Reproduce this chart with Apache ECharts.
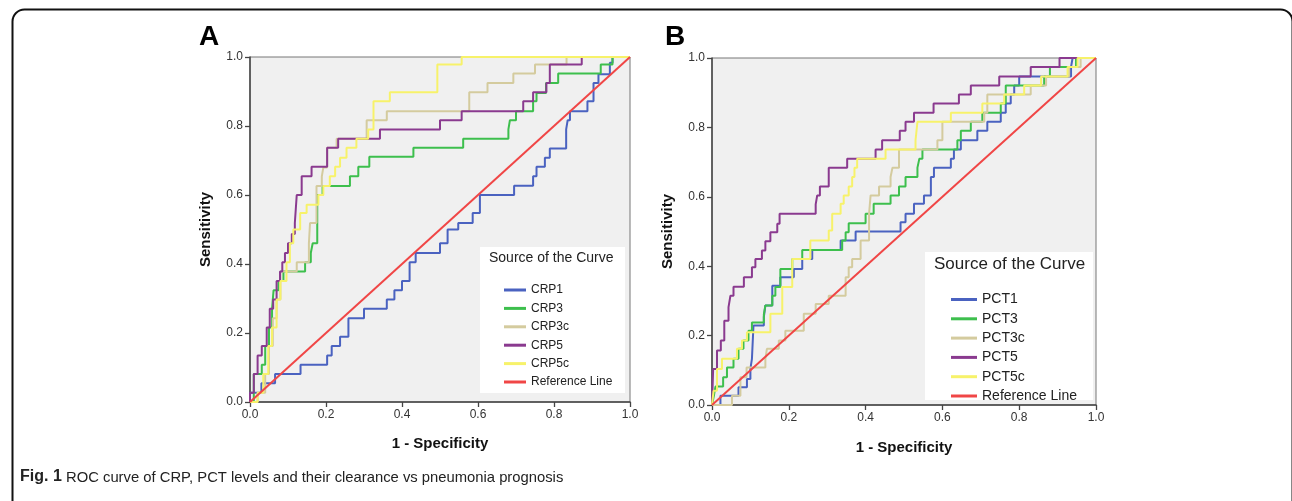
<!DOCTYPE html>
<html><head><meta charset="utf-8">
<script src="https://cdn.jsdelivr.net/npm/echarts@6/dist/echarts.min.js"></script>
<style>html,body{margin:0;padding:0;background:#fff}#c{width:1292px;height:501px}</style>
</head><body><div id="c"></div>
<script>
// ---------- data (ROC staircase vertices: [1-specificity, sensitivity]) ----------
const axisTicks = [0, 0.2, 0.4, 0.6, 0.8, 1.0];
const namesA = ['CRP1','CRP3','CRP3c','CRP5','CRP5c','Reference Line'];
const namesB = ['PCT1','PCT3','PCT3c','PCT5','PCT5c','Reference Line'];
const refLine = [[0,0],[1,1]];

const crp1 = [[0,0],[0,0.027],[0.03,0.027],[0.03,0.054],[0.066,0.054],[0.066,0.081],[0.133,0.081],[0.133,0.108],[0.203,0.108],[0.203,0.135],[0.215,0.135],[0.215,0.162],[0.237,0.162],[0.237,0.189],[0.259,0.189],[0.259,0.243],[0.3,0.243],[0.3,0.27],[0.36,0.27],[0.36,0.297],[0.38,0.297],[0.38,0.324],[0.4,0.324],[0.4,0.351],[0.42,0.351],[0.42,0.405],[0.436,0.405],[0.436,0.432],[0.5,0.432],[0.5,0.46],[0.52,0.46],[0.52,0.5],[0.548,0.5],[0.548,0.519],[0.586,0.519],[0.586,0.548],[0.605,0.548],[0.605,0.6],[0.695,0.6],[0.695,0.627],[0.745,0.627],[0.745,0.654],[0.754,0.654],[0.754,0.682],[0.776,0.682],[0.776,0.708],[0.789,0.708],[0.789,0.735],[0.832,0.735],[0.832,0.79],[0.836,0.79],[0.836,0.817],[0.842,0.817],[0.842,0.843],[0.888,0.843],[0.888,0.872],[0.904,0.872],[0.904,0.925],[0.917,0.925],[0.917,0.95],[0.947,0.95],[0.947,0.983],[0.954,0.983],[0.954,1],[1,1]];
const crp3 = [[0,0],[0.01,0],[0.01,0.081],[0.031,0.081],[0.031,0.108],[0.04,0.108],[0.04,0.162],[0.05,0.162],[0.05,0.216],[0.058,0.216],[0.058,0.27],[0.062,0.27],[0.062,0.324],[0.075,0.324],[0.075,0.351],[0.088,0.351],[0.088,0.378],[0.145,0.378],[0.145,0.405],[0.16,0.405],[0.16,0.432],[0.165,0.432],[0.165,0.46],[0.177,0.46],[0.177,0.6],[0.191,0.6],[0.191,0.626],[0.263,0.626],[0.263,0.654],[0.285,0.654],[0.285,0.682],[0.314,0.682],[0.314,0.711],[0.43,0.711],[0.43,0.737],[0.561,0.737],[0.561,0.763],[0.68,0.763],[0.68,0.79],[0.684,0.79],[0.684,0.817],[0.7,0.817],[0.7,0.843],[0.745,0.843],[0.745,0.872],[0.754,0.872],[0.754,0.896],[0.779,0.896],[0.779,0.925],[0.811,0.925],[0.811,0.952],[0.923,0.952],[0.923,0.978],[0.954,0.978],[0.954,1],[1,1]];
const crp3c = [[0,0],[0.02,0],[0.02,0.027],[0.04,0.027],[0.04,0.081],[0.05,0.081],[0.05,0.162],[0.06,0.162],[0.06,0.243],[0.07,0.243],[0.07,0.297],[0.08,0.297],[0.08,0.378],[0.123,0.378],[0.123,0.405],[0.155,0.405],[0.155,0.46],[0.158,0.46],[0.158,0.519],[0.175,0.519],[0.175,0.626],[0.189,0.626],[0.189,0.654],[0.193,0.654],[0.193,0.68],[0.203,0.68],[0.203,0.737],[0.228,0.737],[0.228,0.763],[0.307,0.763],[0.307,0.817],[0.36,0.817],[0.36,0.843],[0.577,0.843],[0.577,0.898],[0.625,0.898],[0.625,0.925],[0.693,0.925],[0.693,0.952],[0.75,0.952],[0.75,0.978],[0.833,0.978],[0.833,1],[1,1]];
const crp5 = [[0,0],[0,0.027],[0.01,0.027],[0.01,0.081],[0.02,0.081],[0.02,0.135],[0.031,0.135],[0.031,0.162],[0.044,0.162],[0.044,0.216],[0.052,0.216],[0.052,0.27],[0.061,0.27],[0.061,0.297],[0.07,0.297],[0.07,0.351],[0.079,0.351],[0.079,0.378],[0.085,0.378],[0.085,0.405],[0.092,0.405],[0.092,0.432],[0.1,0.432],[0.1,0.46],[0.11,0.46],[0.11,0.487],[0.118,0.487],[0.118,0.519],[0.123,0.519],[0.123,0.6],[0.136,0.6],[0.136,0.654],[0.162,0.654],[0.162,0.682],[0.203,0.682],[0.203,0.737],[0.232,0.737],[0.232,0.763],[0.342,0.763],[0.342,0.79],[0.5,0.79],[0.5,0.817],[0.557,0.817],[0.557,0.843],[0.719,0.843],[0.719,0.872],[0.745,0.872],[0.745,0.898],[0.78,0.898],[0.78,0.925],[0.789,0.925],[0.789,0.978],[0.873,0.978],[0.873,1],[1,1]];
const crp5c = [[0,0],[0.02,0],[0.02,0.027],[0.035,0.027],[0.035,0.081],[0.048,0.081],[0.048,0.162],[0.058,0.162],[0.058,0.216],[0.07,0.216],[0.07,0.297],[0.08,0.297],[0.08,0.351],[0.096,0.351],[0.096,0.405],[0.105,0.405],[0.105,0.46],[0.114,0.46],[0.114,0.5],[0.132,0.5],[0.132,0.548],[0.149,0.548],[0.149,0.572],[0.18,0.572],[0.18,0.6],[0.193,0.6],[0.193,0.626],[0.21,0.626],[0.21,0.654],[0.224,0.654],[0.224,0.682],[0.237,0.682],[0.237,0.708],[0.254,0.708],[0.254,0.737],[0.28,0.737],[0.28,0.763],[0.311,0.763],[0.311,0.79],[0.325,0.79],[0.325,0.872],[0.368,0.872],[0.368,0.898],[0.493,0.898],[0.493,0.978],[0.557,0.978],[0.557,1],[1,1]];

const pct1 = [[0,0],[0.022,0],[0.022,0.027],[0.069,0.027],[0.069,0.051],[0.091,0.051],[0.091,0.075],[0.1,0.075],[0.1,0.104],[0.104,0.104],[0.104,0.133],[0.108,0.133],[0.108,0.229],[0.135,0.229],[0.135,0.253],[0.139,0.253],[0.139,0.287],[0.157,0.287],[0.157,0.344],[0.178,0.344],[0.178,0.368],[0.213,0.368],[0.213,0.392],[0.235,0.392],[0.235,0.421],[0.261,0.421],[0.261,0.447],[0.335,0.447],[0.335,0.474],[0.374,0.474],[0.374,0.5],[0.491,0.5],[0.491,0.527],[0.504,0.527],[0.504,0.551],[0.526,0.551],[0.526,0.58],[0.552,0.58],[0.552,0.604],[0.57,0.604],[0.57,0.657],[0.578,0.657],[0.578,0.684],[0.622,0.684],[0.622,0.71],[0.63,0.71],[0.63,0.736],[0.648,0.736],[0.648,0.763],[0.691,0.763],[0.691,0.79],[0.717,0.79],[0.717,0.816],[0.752,0.816],[0.752,0.842],[0.765,0.842],[0.765,0.869],[0.778,0.869],[0.778,0.895],[0.787,0.895],[0.787,0.921],[0.8,0.921],[0.8,0.947],[0.935,0.947],[0.935,0.974],[0.939,0.974],[0.939,1],[1,1]];
const pct3 = [[0,0],[0.005,0],[0.005,0.027],[0.009,0.027],[0.009,0.053],[0.029,0.053],[0.029,0.08],[0.039,0.08],[0.039,0.108],[0.056,0.108],[0.056,0.133],[0.069,0.133],[0.069,0.162],[0.082,0.162],[0.082,0.186],[0.095,0.186],[0.095,0.214],[0.104,0.214],[0.104,0.238],[0.135,0.238],[0.135,0.26],[0.139,0.26],[0.139,0.287],[0.157,0.287],[0.157,0.315],[0.165,0.315],[0.165,0.34],[0.178,0.34],[0.178,0.392],[0.209,0.392],[0.209,0.421],[0.235,0.421],[0.235,0.447],[0.339,0.447],[0.339,0.474],[0.348,0.474],[0.348,0.498],[0.356,0.498],[0.356,0.524],[0.4,0.524],[0.4,0.551],[0.421,0.551],[0.421,0.58],[0.465,0.58],[0.465,0.604],[0.487,0.604],[0.487,0.63],[0.504,0.63],[0.504,0.657],[0.535,0.657],[0.535,0.684],[0.54,0.684],[0.54,0.71],[0.548,0.71],[0.548,0.736],[0.639,0.736],[0.639,0.763],[0.648,0.763],[0.648,0.79],[0.674,0.79],[0.674,0.816],[0.704,0.816],[0.704,0.842],[0.752,0.842],[0.752,0.869],[0.765,0.869],[0.765,0.921],[0.865,0.921],[0.865,0.947],[0.88,0.947],[0.88,0.974],[0.948,0.974],[0.948,1],[1,1]];
const pct3c = [[0,0],[0.052,0],[0.052,0.027],[0.074,0.027],[0.074,0.08],[0.09,0.08],[0.09,0.108],[0.139,0.108],[0.139,0.133],[0.143,0.133],[0.143,0.162],[0.174,0.162],[0.174,0.186],[0.191,0.186],[0.191,0.214],[0.239,0.214],[0.239,0.263],[0.27,0.263],[0.27,0.291],[0.304,0.291],[0.304,0.315],[0.348,0.315],[0.348,0.368],[0.356,0.368],[0.356,0.397],[0.365,0.397],[0.365,0.421],[0.387,0.421],[0.387,0.474],[0.409,0.474],[0.409,0.55],[0.413,0.55],[0.413,0.604],[0.435,0.604],[0.435,0.63],[0.465,0.63],[0.465,0.657],[0.47,0.657],[0.47,0.684],[0.487,0.684],[0.487,0.736],[0.587,0.736],[0.587,0.763],[0.6,0.763],[0.6,0.816],[0.709,0.816],[0.709,0.842],[0.717,0.842],[0.717,0.895],[0.83,0.895],[0.83,0.921],[0.87,0.921],[0.87,0.947],[0.93,0.947],[0.93,0.974],[0.96,0.974],[0.96,1],[1,1]];
const pct5 = [[0,0],[0.003,0],[0.003,0.104],[0.013,0.104],[0.013,0.157],[0.023,0.157],[0.023,0.186],[0.032,0.186],[0.032,0.243],[0.043,0.243],[0.043,0.282],[0.048,0.282],[0.048,0.315],[0.056,0.315],[0.056,0.341],[0.083,0.341],[0.083,0.368],[0.104,0.368],[0.104,0.397],[0.113,0.397],[0.113,0.421],[0.13,0.421],[0.13,0.445],[0.139,0.445],[0.139,0.472],[0.152,0.472],[0.152,0.498],[0.17,0.498],[0.17,0.522],[0.176,0.522],[0.176,0.551],[0.27,0.551],[0.27,0.578],[0.274,0.578],[0.274,0.604],[0.281,0.604],[0.281,0.63],[0.304,0.63],[0.304,0.684],[0.352,0.684],[0.352,0.71],[0.426,0.71],[0.426,0.736],[0.443,0.736],[0.443,0.763],[0.489,0.763],[0.489,0.79],[0.504,0.79],[0.504,0.816],[0.526,0.816],[0.526,0.842],[0.577,0.842],[0.577,0.869],[0.643,0.869],[0.643,0.895],[0.674,0.895],[0.674,0.921],[0.748,0.921],[0.748,0.947],[0.83,0.947],[0.83,0.974],[0.905,0.974],[0.905,1],[1,1]];
const pct5c = [[0,0],[0.004,0],[0.004,0.041],[0.013,0.041],[0.013,0.104],[0.026,0.104],[0.026,0.133],[0.065,0.133],[0.065,0.162],[0.078,0.162],[0.078,0.186],[0.091,0.186],[0.091,0.21],[0.152,0.21],[0.152,0.263],[0.183,0.263],[0.183,0.34],[0.209,0.34],[0.209,0.421],[0.256,0.421],[0.256,0.474],[0.304,0.474],[0.304,0.503],[0.313,0.503],[0.313,0.551],[0.335,0.551],[0.335,0.58],[0.343,0.58],[0.343,0.604],[0.356,0.604],[0.356,0.63],[0.365,0.63],[0.365,0.657],[0.371,0.657],[0.371,0.684],[0.378,0.684],[0.378,0.71],[0.452,0.71],[0.452,0.736],[0.53,0.736],[0.53,0.763],[0.535,0.763],[0.535,0.816],[0.622,0.816],[0.622,0.842],[0.704,0.842],[0.704,0.869],[0.761,0.869],[0.761,0.895],[0.813,0.895],[0.813,0.921],[0.857,0.921],[0.857,0.947],[0.926,0.947],[0.926,0.974],[0.952,0.974],[0.952,1],[1,1]];

// ---------- styling ----------
const colors = ['#4a62c0','#3dbf4d','#d4cb9e','#8a3a8f','#f7f26a','#f04646'];
const dataA = [crp1, crp3, crp3c, crp5, crp5c, refLine];
const dataB = [pct1, pct3, pct3c, pct5, pct5c, refLine];

const chart = echarts.init(document.getElementById('c'), null, {renderer:'canvas'});
const FONT = 'Liberation Sans, Arial, sans-serif';

function mkX(gi){
  return {type:'value', gridIndex:gi, min:axisTicks[0], max:axisTicks[axisTicks.length-1], interval:0.2,
    name:'1 - Specificity', nameLocation:'middle', nameGap: gi===0?34:35,
    nameTextStyle:{fontFamily:FONT, fontWeight:'bold', fontSize:15, color:'#111'},
    axisLine:{show:true, onZero:false, lineStyle:{color:'#444', width:1.5}},
    axisTick:{show:true, length:5, lineStyle:{color:'#444', width:1.3}},
    axisLabel:{fontFamily:FONT, fontSize:12, color:'#333', margin:7, formatter:v=>v.toFixed(1)},
    splitLine:{show:false}};
}
function mkY(gi){
  return {type:'value', gridIndex:gi, min:axisTicks[0], max:axisTicks[axisTicks.length-1], interval:0.2,
    name:'Sensitivity', nameLocation:'middle', nameGap:37,
    nameTextStyle:{fontFamily:FONT, fontWeight:'bold', fontSize:15, color:'#111'},
    axisLine:{show:true, onZero:false, lineStyle:{color:'#444', width:1.5}},
    axisTick:{show:true, length:5, lineStyle:{color:'#444', width:1.3}},
    axisLabel:{fontFamily:FONT, fontSize:12, color:'#333', margin:7, formatter:v=>v.toFixed(1)},
    splitLine:{show:false}};
}
const series = [];
[[namesA,dataA,0],[namesB,dataB,1]].forEach(([names,datas,gi])=>{
  names.forEach((n,i)=>{
    series.push({type:'line', name:n, xAxisIndex:gi, yAxisIndex:gi, data:datas[i],
      showSymbol:false, symbol:'none', animation:false, silent:true,
      lineStyle:{color:colors[i], width:2}, itemStyle:{color:colors[i]}, z: i===5?4:3});
  });
});

const option = {
  animation:false,
  backgroundColor:'#ffffff',
  grid:[
    {left:250, top:57, width:380, height:345, show:true, backgroundColor:'#f0f0f0', borderColor:'#777', borderWidth:1},
    {left:712, top:58, width:384, height:347, show:true, backgroundColor:'#f0f0f0', borderColor:'#777', borderWidth:1}
  ],
  xAxis:[mkX(0), mkX(1)],
  yAxis:[mkY(0), mkY(1)],
  legend:[
    {data:namesA, orient:'vertical', left:499, top:278, itemWidth:22, itemHeight:3, itemGap:4.4, icon:'rect',
      textStyle:{fontFamily:FONT, fontSize:12, color:'#222', lineHeight:14}, selectedMode:false, z:6},
    {data:namesB, orient:'vertical', left:946, top:287, itemWidth:26, itemHeight:3, itemGap:4.3, icon:'rect',
      textStyle:{fontFamily:FONT, fontSize:14, color:'#222', lineHeight:15}, selectedMode:false, z:6}
  ],
  graphic:[
    {type:'rect', left:10, top:7, shape:{width:1280, height:540, r:12}, style:{fill:'none', stroke:'#111', lineWidth:2}, z:0},
    {type:'rect', left:480, top:247, shape:{width:145, height:146}, style:{fill:'#ffffff'}, z:5},
    {type:'rect', left:925, top:252, shape:{width:168, height:148}, style:{fill:'#ffffff'}, z:5},
    {type:'text', left:489, top:251, style:{text:'Source of the Curve', fontFamily:FONT, fontSize:14, fill:'#222'}, z:6},
    {type:'text', left:934, top:256, style:{text:'Source of the Curve', fontFamily:FONT, fontSize:17, fill:'#222'}, z:6},
    {type:'text', left:199, top:23, style:{text:'A', fontFamily:FONT, fontSize:28, fontWeight:'bold', fill:'#000'}, z:6},
    {type:'text', left:665, top:23, style:{text:'B', fontFamily:FONT, fontSize:28, fontWeight:'bold', fill:'#000'}, z:6},
    {type:'text', left:20, top:469, style:{text:'Fig. 1', fontFamily:FONT, fontSize:16, fontWeight:'bold', fill:'#222'}, z:6},
    {type:'text', left:66, top:470, style:{text:'ROC curve of CRP, PCT levels and their clearance vs pneumonia prognosis', fontFamily:FONT, fontSize:14.8, fill:'#222'}, z:6}
  ],
  series: series
};
chart.setOption(option);
</script></body></html>
